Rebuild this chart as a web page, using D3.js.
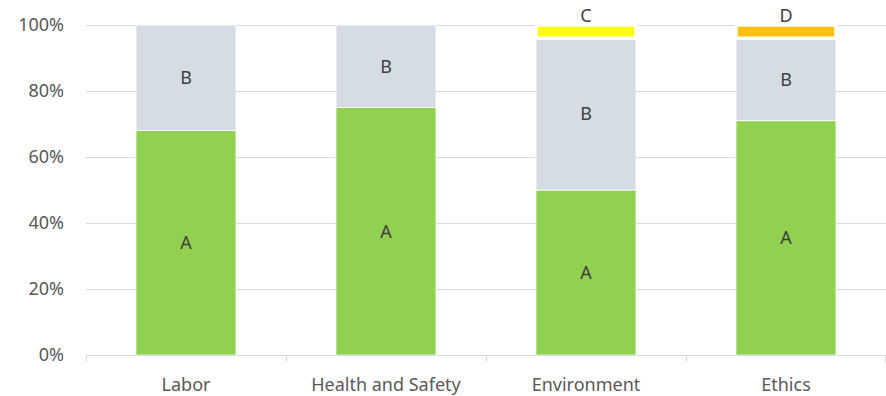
<!DOCTYPE html>
<html>
<head>
<meta charset="utf-8">
<script src="https://cdn.jsdelivr.net/npm/d3@7"></script>
<style>
  html, body { margin: 0; padding: 0; background: #fff; }
  svg text { font-family: "Source Sans Pro", "Noto Sans", "Open Sans", sans-serif; }
</style>
</head>
<body>
<svg id="chart" width="886" height="396"></svg>
<script>
const categories = ["Labor", "Health and Safety", "Environment", "Ethics"];
const seriesNames = ["A", "B", "C", "D"];
const valuesA = [68, 75, 50, 71];
const valuesB = [32, 25, 46, 25];
const valuesC = [0, 0, 4, 0];
const valuesD = [0, 0, 0, 4];
const yTicks = [0, 20, 40, 60, 80, 100];

const colors = { A: "#92D050", B: "#D6DCE4", C: "#FFFF00", D: "#FFC000" };
const strokeW = { A: 0.8, B: 0.8, C: 3.5, D: 3.5 };

const svg = d3.select("#chart");
const margin = { left: 86, right: 0, top: 25, bottom: 41 };
const W = 886, H = 396;

const x = d3.scaleBand().domain(categories).range([margin.left, W - margin.right]).paddingInner(0.5).paddingOuter(0.25);
const xOuter = d3.scaleBand().domain(categories).range([margin.left, W - margin.right]).padding(0);
const y = d3.scaleLinear().domain([0, 100]).range([H - margin.bottom, margin.top]);

const table = categories.map((c, i) => ({ cat: c, A: valuesA[i], B: valuesB[i], C: valuesC[i], D: valuesD[i] }));
const stack = d3.stack().keys(seriesNames)(table);

// gridlines
svg.append("g").selectAll("line").data(yTicks.filter(t => t > 0)).join("line")
  .attr("x1", margin.left).attr("x2", W - margin.right)
  .attr("y1", d => y(d) + 0.5).attr("y2", d => y(d) + 0.5)
  .attr("stroke", "#D9D9D9").attr("stroke-width", 1);

// y labels
svg.append("g").selectAll("text").data(yTicks).join("text")
  .attr("x", 64).attr("y", d => y(d)).attr("dy", "0.35em")
  .attr("text-anchor", "end").attr("fill", "#595959").attr("font-size", 18)
  .text(d => d + "%");

// bars
const g = svg.append("g");
stack.forEach(s => {
  g.append("g").selectAll("rect").data(s.filter(d => d[1] - d[0] > 0)).join("rect")
    .attr("x", d => x(d.data.cat))
    .attr("width", x.bandwidth())
    .attr("y", d => y(d[1]))
    .attr("height", d => y(d[0]) - y(d[1]))
    .attr("fill", colors[s.key])
    .attr("stroke", "#fff").attr("stroke-width", strokeW[s.key]);
});

// x axis line
svg.append("line").attr("x1", margin.left).attr("x2", W)
  .attr("y1", y(0) + 0.5).attr("y2", y(0) + 0.5)
  .attr("stroke", "#D9D9D9").attr("stroke-width", 1);
const tickXs = categories.map(c => xOuter(c)).concat([W - 1]);
svg.append("g").selectAll("line").data(tickXs).join("line")
  .attr("x1", d => Math.round(d) + 0.5).attr("x2", d => Math.round(d) + 0.5)
  .attr("y1", y(0)).attr("y2", y(0) + 7)
  .attr("stroke", "#D9D9D9").attr("stroke-width", 1);

// x labels
svg.append("g").selectAll("text").data(categories).join("text")
  .attr("x", d => x(d) + x.bandwidth() / 2).attr("y", 385)
  .attr("dy", "0.35em")
  .attr("text-anchor", "middle").attr("fill", "#595959").attr("font-size", 18)
  .text(d => d);

// data labels
stack.forEach(s => {
  g.append("g").selectAll("text").data(s.filter(d => d[1] - d[0] > 0)).join("text")
    .attr("x", d => x(d.data.cat) + x.bandwidth() / 2)
    .attr("y", d => (d[1] - d[0]) < 8 ? y(d[1]) - 9 : (y(d[0]) + y(d[1])) / 2)
    .attr("dy", "0.35em")
    .attr("text-anchor", "middle").attr("fill", "#404040").attr("font-size", 18)
    .text(s.key);
});
</script>
</body>
</html>
